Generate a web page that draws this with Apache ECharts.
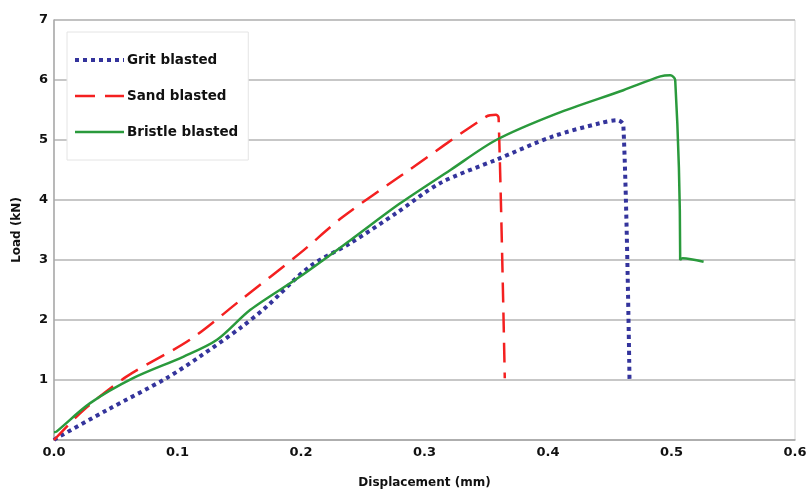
<!DOCTYPE html>
<html>
<head>
<meta charset="utf-8">
<script src="https://cdn.jsdelivr.net/npm/echarts@6/dist/echarts.min.js"></script>
<style>
  html, body { margin: 0; padding: 0; background: #fff; }
  #chart { width: 809px; height: 489px; }
</style>
</head>
<body>
<div id="chart"></div>
<script>
// values
const gritX = [0, 0.002, 0.043, 0.091, 0.118, 0.151, 0.172, 0.207, 0.240, 0.277, 0.3125, 0.358, 0.404, 0.442, 0.456, 0.461, 0.466];
const gritY = [0, 0.03, 0.5, 1.03, 1.39, 1.87, 2.22, 2.89, 3.28, 3.78, 4.28, 4.67, 5.06, 5.28, 5.33, 5.25, 1.0];

const sandX = [0, 0.024, 0.059, 0.110, 0.151, 0.199, 0.234, 0.282, 0.350, 0.358, 0.360, 0.365];
const sandY = [0, 0.5, 1.06, 1.67, 2.33, 3.11, 3.72, 4.42, 5.39, 5.42, 5.37, 1.03];

const bristleX = [0, 0.002, 0.029, 0.064, 0.105, 0.132, 0.159, 0.199, 0.240, 0.280, 0.321, 0.358, 0.407, 0.461, 0.491, 0.499, 0.503, 0.507, 0.507, 0.509, 0.526];
const bristleY = [0.13, 0.14, 0.61, 1.03, 1.39, 1.67, 2.17, 2.72, 3.33, 3.94, 4.5, 5.0, 5.44, 5.83, 6.06, 6.08, 6.0, 3.11, 3.0, 3.03, 2.97];

const xTicks = [0, 0.1, 0.2, 0.3, 0.4, 0.5, 0.6];
const yTicks = [0, 1, 2, 3, 4, 5, 6, 7];

const seriesNames = ["Grit blasted", "Sand blasted", "Bristle blasted"];

const styles = [
  { color: "#34349c", width: 4, type: [4, 4], cap: "butt" },
  { color: "#f42020", width: 2.5, type: [20, 10], cap: "butt" },
  { color: "#2a9a3c", width: 2.5, type: "solid" }
];

function pairs(xs, ys) {
  return xs.map((x, i) => [x, ys[i]]);
}

const font = "DejaVu Sans";
const chart = echarts.init(document.getElementById("chart"), null, { renderer: "canvas" });

const seriesData = [pairs(gritX, gritY), pairs(sandX, sandY), pairs(bristleX, bristleY)];

chart.setOption({
  animation: false,
  textStyle: { fontFamily: font },
  grid: {
    left: 54,
    right: 14,
    top: 20,
    bottom: 49,
    containLabel: false,
    outerBoundsMode: "none",
    show: true,
    borderColor: "#d4d4d4",
    borderWidth: 1,
    backgroundColor: "#fff"
  },
  legend: {
    orient: "vertical",
    left: 67,
    top: 32,
    padding: [21, 10, 21, 6],
    itemWidth: 49,
    itemHeight: 14,
    itemGap: 22,
    backgroundColor: "#fff",
    borderColor: "#e4e4e4",
    borderWidth: 1,
    textStyle: { fontFamily: font, fontWeight: "bold", fontSize: 13.5, color: "#111", padding: [0, 0, 0, -2] },
    data: seriesNames.map((name, i) => ({
      name,
      itemStyle: { opacity: 0 },
      lineStyle: { ...styles[i] }
    }))
  },
  xAxis: {
    type: "value",
    min: xTicks[0],
    max: xTicks[xTicks.length - 1],
    interval: 0.1,
    name: "Displacement (mm)",
    nameLocation: "middle",
    nameGap: 37,
    nameTextStyle: { fontFamily: font, fontWeight: "bold", fontSize: 12, color: "#111" },
    axisLine: { show: true, lineStyle: { color: "#a8a8a8", width: 1.5 } },
    axisTick: { show: false },
    splitLine: { show: false },
    axisLabel: {
      margin: 6,
      fontFamily: font,
      fontWeight: "bold",
      fontSize: 13,
      color: "#111",
      formatter: (v) => v.toFixed(1)
    }
  },
  yAxis: {
    type: "value",
    min: yTicks[0],
    max: yTicks[yTicks.length - 1],
    interval: 1,
    name: "Load (kN)",
    nameLocation: "middle",
    nameGap: 31,
    nameTextStyle: { fontFamily: font, fontWeight: "bold", fontSize: 12, color: "#111" },
    axisLine: { show: true, lineStyle: { color: "#a8a8a8", width: 1.5 } },
    axisTick: { show: false },
    splitLine: { show: true, lineStyle: { color: "#b4b4b4", width: 1.5 } },
    axisLabel: {
      margin: 6,
      fontFamily: font,
      fontWeight: "bold",
      fontSize: 13,
      color: "#111",
      formatter: (v) => (v === 0 ? "" : String(v))
    }
  },
  series: seriesNames.map((name, i) => ({
    name,
    type: "line",
    showSymbol: false,
    symbol: "none",
    smooth: 0.3,
    lineStyle: { ...styles[i] },
    itemStyle: { color: styles[i].color },
    data: seriesData[i]
  }))
});
</script>
</body>
</html>
